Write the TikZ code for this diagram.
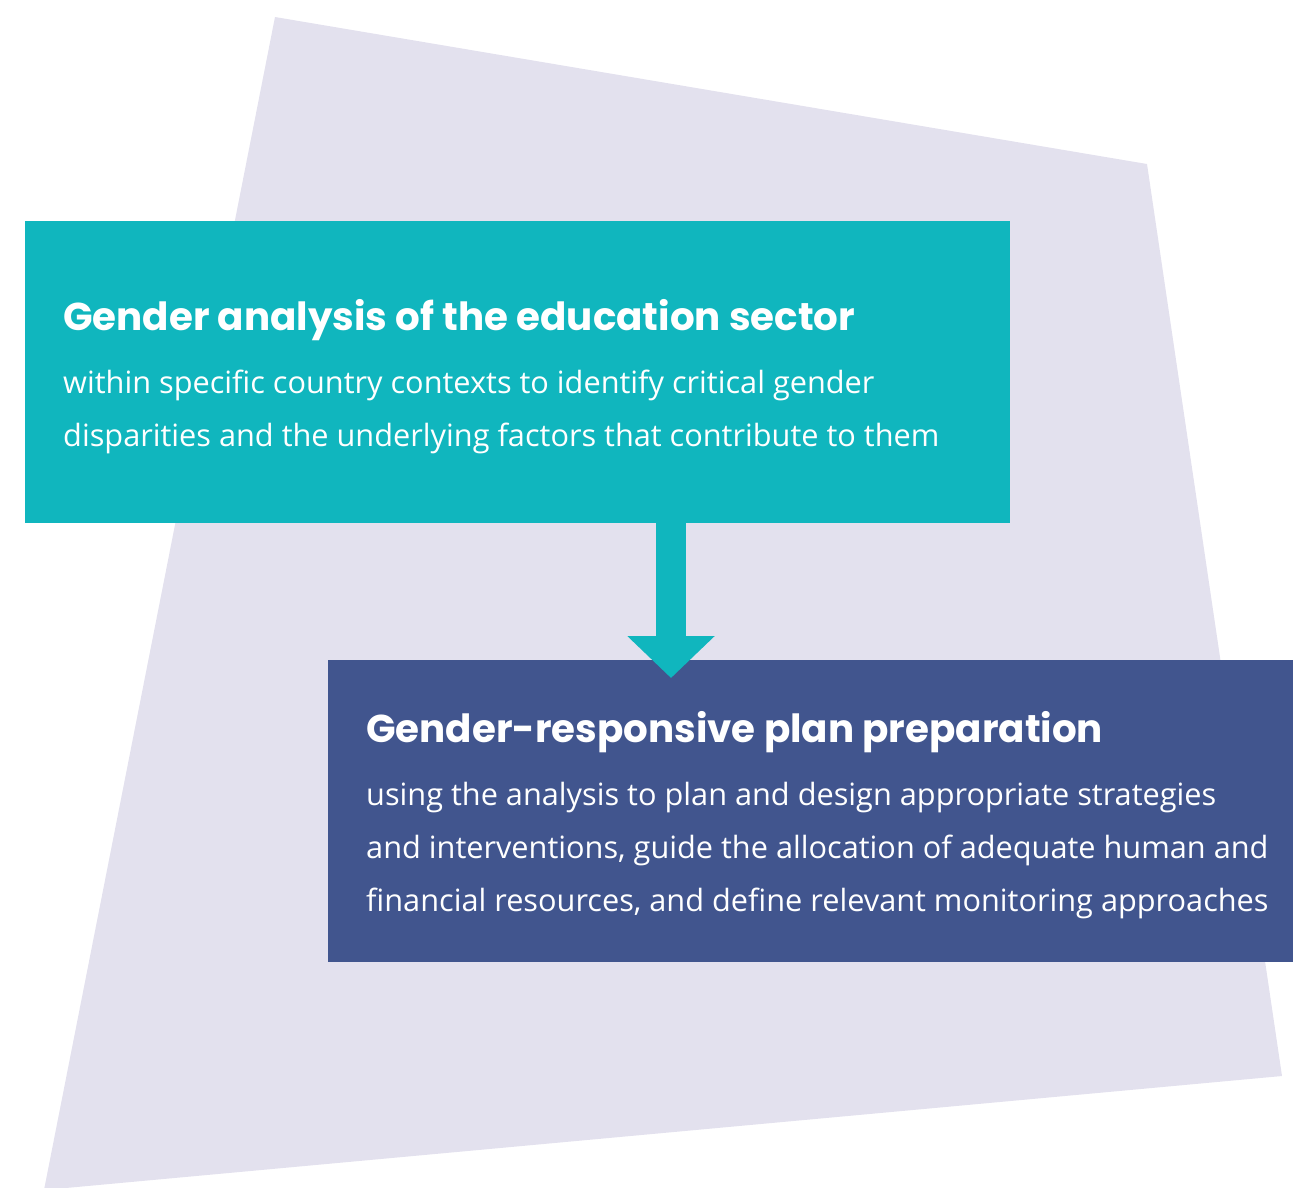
\documentclass[tikz,border=0pt]{standalone}
\usepackage{fontspec}
\setmainfont{Open Sans}
\newfontfamily\titlefont{Poppins}
\usetikzlibrary{arrows.meta}
\definecolor{bgshape}{HTML}{E3E1EE}
\definecolor{tealbox}{HTML}{10B6BE}
\definecolor{bluebox}{HTML}{41558E}
\tikzset{
  box/.style={inner sep=0pt, outer sep=0pt, draw=none},
  ttl/.style={anchor=base west, inner sep=0pt, text=white, font=\titlefont\bfseries\fontsize{38.8}{46}\selectfont},
  bdy/.style={anchor=base west, inner sep=0pt, text=white, align=left, font=\fontsize{30.7}{53}\selectfont},
}
\begin{document}
\begin{tikzpicture}[x=1pt,y=-1pt]
\useasboundingbox (0,0) rectangle (1293,1187);
\begin{scope}
\clip (0,0) rectangle (1293,1187);
\fill[bgshape] (275,17) -- (1147,164) -- (1282,1076) -- (44,1190) -- cycle;
\end{scope}
\node[box, fill=tealbox, minimum width=985pt, minimum height=302pt, anchor=north west] (a) at (25,221) {};
\node[box, fill=bluebox, minimum width=965pt, minimum height=302pt, anchor=north west] (b) at (328,660) {};
\node[ttl] (at) at (63,330) {Gender analysis of the education sector};
\node[bdy] (ab) at (63,446) {within specific country contexts to identify critical gender\\disparities and the underlying factors that contribute to them};
\node[ttl] (bt) at (366,742) {Gender-responsive plan preparation};
\node[bdy] (bb) at (366,911) {using the analysis to plan and design appropriate strategies\\and interventions, guide the allocation of adequate human and\\financial resources, and define relevant monitoring approaches};
\coordinate (tip) at (671,678);
\draw[tealbox, line width=30pt, -{Triangle[width=85pt,length=42pt]}] (a.south -| tip) -- (tip);
\end{tikzpicture}
\end{document}
